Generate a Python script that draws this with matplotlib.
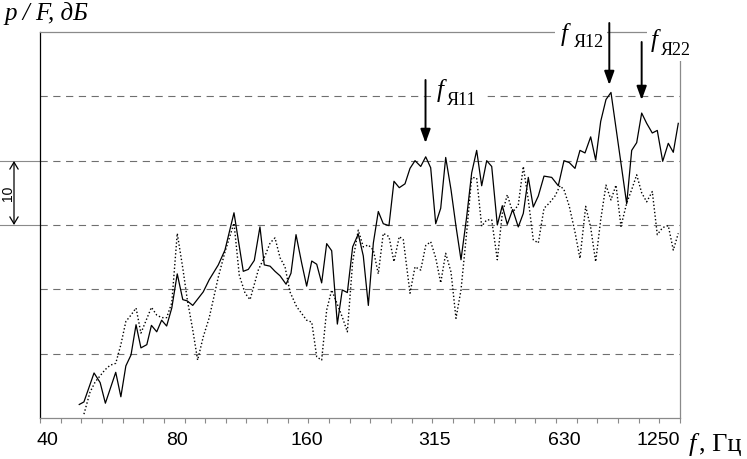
import matplotlib
matplotlib.use('Agg')
import matplotlib.pyplot as plt
from matplotlib.ticker import FixedLocator, NullFormatter
from matplotlib.patches import Rectangle
import numpy as np

# ---------------- data ----------------
solid_freq = [47.5, 48.7, 51.4, 53.1, 54.6, 57.7, 59.3, 60.9, 62.6, 64.3, 66.0, 68.1, 69.8, 71.8, 73.7,
              75.7, 77.8, 80.1, 82.5, 84.5, 87.0, 92.0, 95.0, 99.7, 103.3, 108.4, 113.9, 117.0, 120.8,
              124.5, 127.4, 131.4, 134.9, 138.6, 143.1, 146.9, 150.9, 155.5, 159.7, 164.1, 168.5, 173.0,
              177.7, 182.5, 188.1, 193.1, 198.4, 204.1, 210.3, 216.0, 221.9, 227.9, 234.0, 240.3, 247.7,
              254.4, 261.7, 269.8, 277.1, 284.6, 293.4, 301.3, 309.4, 317.8, 326.4, 335.2, 344.8, 354.1,
              363.7, 374.9, 385.0, 395.4, 406.1, 417.1, 428.4, 441.4, 453.3, 465.5, 479.1, 493.6, 507.0,
              520.7, 534.7, 549.2, 566.2, 589.9, 611.0, 629.8, 647.9, 667.9, 685.9, 704.5, 726.2, 745.8,
              766.0, 787.9, 809.2, 879.9, 903.7, 928.1, 953.1, 978.9, 1008.6, 1035.8, 1066.1, 1098.4,
              1128.1, 1158.5]
solid_db = [2.1, 2.5, 7.0, 5.5, 2.3, 7.1, 3.3, 8.1, 9.8, 14.5, 10.9, 11.4, 14.4, 13.4, 15.2, 14.3, 17.1,
            22.4, 18.4, 18.2, 17.5, 19.6, 21.5, 23.8, 26.1, 31.9, 22.8, 23.1, 24.5, 29.7, 23.8, 23.6,
            22.8, 22.1, 20.8, 22.5, 28.5, 24.1, 20.5, 24.4, 23.9, 21.0, 27.1, 26.0, 14.6, 19.9, 19.5,
            26.6, 28.6, 25.2, 17.5, 27.2, 32.1, 30.2, 29.9, 36.8, 35.8, 36.4, 38.8, 40.0, 39.1, 40.6,
            38.9, 30.2, 32.6, 40.5, 35.5, 29.8, 24.6, 31.3, 38.1, 41.6, 36.1, 40.0, 39.1, 30.0, 33.0,
            30.1, 32.4, 29.7, 31.8, 37.4, 32.8, 34.5, 37.6, 37.4, 36.1, 40.0, 39.7, 38.8, 41.6, 41.2,
            43.7, 40.1, 46.1, 49.5, 50.6, 33.3, 41.6, 42.8, 47.4, 45.8, 44.3, 44.7, 39.9, 42.7, 41.3, 45.8]

dotted_freq = [48.7, 50.3, 51.7, 54.5, 56.0, 57.7, 59.3, 60.9, 62.6, 64.3, 66.0, 69.8, 71.8, 73.7, 75.7,
               77.8, 80.1, 82.5, 84.5, 87.0, 89.3, 92.0, 95.0, 99.7, 103.3, 108.4, 111.5, 115.0, 118.1,
               123.4, 127.9, 131.4, 134.9, 138.6, 142.3, 146.1, 151.4, 159.7, 164.1, 168.5, 173.0, 177.7,
               182.5, 187.5, 193.1, 198.4, 204.1, 210.3, 216.0, 221.9, 227.9, 234.0, 240.3, 247.7, 254.4,
               261.7, 267.4, 277.1, 284.6, 293.4, 301.3, 309.4, 317.8, 326.4, 335.2, 344.8, 354.1, 363.7,
               374.9, 385.0, 395.4, 406.1, 417.1, 428.4, 441.4, 453.3, 465.5, 479.1, 493.6, 507.0, 520.7,
               534.7, 549.2, 566.2, 582.3, 600.3, 616.6, 629.8, 647.9, 667.9, 685.9, 707.1, 726.2, 745.8,
               766.0, 787.9, 809.2, 831.1, 853.5, 879.9, 903.7, 928.1, 953.1, 978.9, 1008.6, 1035.8,
               1066.1, 1098.4, 1128.1, 1158.5]
dotted_db = [0.6, 4.0, 5.6, 7.5, 8.2, 8.5, 11.4, 15.0, 16.0, 17.1, 13.2, 17.2, 16.0, 15.6, 15.6, 17.9,
             28.7, 23.3, 18.4, 13.7, 9.0, 12.6, 15.6, 21.9, 25.8, 30.3, 22.2, 19.4, 18.4, 23.0, 25.2,
             27.2, 28.0, 24.9, 23.5, 19.6, 17.3, 15.2, 14.9, 9.5, 9.0, 16.8, 19.9, 17.9, 15.7, 13.4,
             24.3, 29.2, 26.6, 26.9, 26.1, 22.4, 28.7, 28.2, 24.3, 28.2, 27.7, 19.4, 23.5, 23.0, 26.8,
             27.4, 24.9, 21.0, 25.6, 22.7, 15.5, 19.9, 28.9, 37.4, 37.3, 29.8, 30.8, 30.8, 24.6, 31.8,
             34.7, 32.0, 33.1, 39.1, 33.9, 27.7, 27.2, 32.6, 33.4, 34.5, 36.1, 35.5, 32.9, 28.9, 24.8,
             32.9, 29.6, 24.3, 30.8, 36.2, 33.9, 36.2, 29.8, 33.4, 35.5, 37.8, 35.0, 33.6, 35.2, 28.5,
             29.6, 29.9, 26.1, 28.7]

tick_freqs = [40, 80, 160, 315, 630, 1250]
tick_labels = ['40', '80', '160', '315', '630', '1250']
grid_levels = [10, 20, 30, 40, 50]
res_names = ['Я11', 'Я12', 'Я22']
res_freqs = [301, 802, 953]

# ---------------- layout ----------------
W, H = 747, 459
fig = plt.figure(figsize=(W / 100, H / 100), dpi=100)
fig.patch.set_facecolor('white')


def P(x, y):
    """pixel (from top-left) -> figure fraction"""
    return x / W, (H - y) / H


AX_L, AX_R, AX_T, AX_B = 40, 680, 32, 418
ax = fig.add_axes([AX_L / W, (H - AX_B) / H, (AX_R - AX_L) / W, (AX_B - AX_T) / H])
XMIN, XMAX = 38.53, 1169.2
ax.set_xscale('log')
ax.set_xlim(XMIN, XMAX)
ax.set_ylim(0, 60)

GRAY = '#8a8a8a'
for lev in grid_levels:
    ax.axhline(lev, color='#6f6f6f', lw=0.8, linestyle=(0, (6.5, 5)), zorder=1)
# solid extensions left of the axis for the 10 dB scale marker
for lev in (30, 40):
    ax.axhline(lev, xmin=-AX_L / (AX_R - AX_L), xmax=0, color=GRAY, lw=0.8, clip_on=False)

ax.plot(dotted_freq, dotted_db, color='black', lw=1.0, linestyle=(0, (1, 1.6)), zorder=2)
ax.plot(solid_freq, solid_db, color='black', lw=0.9, zorder=3)

# spines
ax.spines['left'].set_color('black')
ax.spines['left'].set_linewidth(0.9)
for s in ('top', 'right', 'bottom'):
    ax.spines[s].set_color(GRAY)
    ax.spines[s].set_linewidth(0.9)

# ticks
ax.set_yticks([])
vis = [(f, l) for f, l in zip(tick_freqs, tick_labels) if f <= XMAX]
ax.set_xticks([f for f, _ in vis])
ax.set_xticklabels([l for _, l in vis])
minor = XMIN * (XMAX / XMIN) ** (np.arange(0, 32) / 31.0)
ax.xaxis.set_minor_locator(FixedLocator(minor))
ax.xaxis.set_minor_formatter(NullFormatter())
ax.tick_params(axis='x', which='major', length=0, pad=10, labelsize=14)
ax.tick_params(axis='x', which='minor', length=3.6, width=0.8, color=GRAY, direction='out')
TICKFONT = ['Liberation Sans Narrow', 'Liberation Sans', 'DejaVu Sans']
for lab in ax.get_xticklabels():
    lab.set_family(TICKFONT)
for f, l in zip(tick_freqs, tick_labels):
    if f > XMAX:
        ax.annotate(l, xy=(XMAX, 0), xycoords=('data', 'axes fraction'), xytext=(0, -10),
                    textcoords='offset points', ha='right', va='top', fontsize=14,
                    family=TICKFONT, annotation_clip=False)

# axis titles
SERIF = ['Liberation Serif', 'DejaVu Serif']
fig.text(*P(4, 20), 'p / F, дБ', family=SERIF, style='italic', fontsize=18, ha='left', va='baseline')
fig.text(*P(689, 451), 'f', family=SERIF, style='italic', fontsize=19, ha='left', va='baseline')
fig.text(*P(699, 451), ', Гц', family=SERIF, fontsize=19, ha='left', va='baseline')

# 10 dB scale marker
fig.add_artist(matplotlib.patches.FancyArrowPatch(P(14, 161), P(14, 225), transform=fig.transFigure,
                                                  arrowstyle='<->,head_length=5,head_width=3',
                                                  lw=0.9, color='black', shrinkA=0, shrinkB=0))
fig.text(*P(8, 193), '10', rotation=90, family=['Liberation Sans', 'DejaVu Sans'], fontsize=10,
         ha='center', va='center')

# resonance labels: (white box px, f pos, sub pos, arrow tail y, arrow tip y)
label_geom = [
    ((433, 78, 50, 32), (437, 97), (447, 105), 80, 143),
    ((555, 18, 52, 32), (561, 41), (574, 47), 23, 85),
    ((647, 24, 52, 37), (651, 47), (661, 55), 42, 100),
]
for name, fr, (box, fpos, spos, y0, y1) in zip(res_names, res_freqs, label_geom):
    bx, by, bw, bh = box
    x0f, y0f = P(bx, by + bh)
    fig.patches.append(Rectangle((x0f, y0f), bw / W, bh / H, transform=fig.transFigure,
                                 facecolor='white', edgecolor='none', zorder=1))
    fig.text(*P(*fpos), 'f', family=SERIF, style='italic', fontsize=18, ha='left', va='baseline', zorder=3)
    fig.text(*P(*spos), name, family=SERIF, fontsize=13, ha='left', va='baseline', zorder=3)
    ax.annotate('', xy=(fr, H - y1), xycoords=('data', 'figure pixels'),
                xytext=(fr, H - y0), textcoords=('data', 'figure pixels'),
                arrowprops=dict(arrowstyle='-|>,head_length=0.55,head_width=0.2', color='black',
                                lw=1.4, mutation_scale=15, shrinkA=0, shrinkB=0),
                annotation_clip=False, zorder=5)

fig.savefig('out.png', dpi=100, facecolor='white')
